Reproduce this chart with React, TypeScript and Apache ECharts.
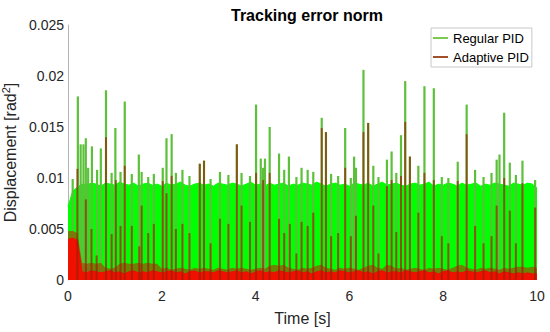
import React, { useEffect, useRef } from 'react';
import * as echarts from 'echarts';

// Sample spacing of the envelope arrays (seconds)
const TIME_STEP = 0.1;

// Regular PID: upper envelope of the dense oscillation (t = 0 .. 10 s, every 0.1 s)
const regularBand = [
  0.0072, 0.0087, 0.0091, 0.0094, 0.0093, 0.0095, 0.0094, 0.0092, 0.0095, 0.0094,
  0.0093, 0.0096, 0.0094, 0.0093, 0.0095, 0.0092, 0.0094, 0.0095, 0.0093, 0.0094,
  0.0092, 0.0095, 0.0093, 0.0094, 0.0096, 0.0093, 0.0092, 0.0094, 0.0095, 0.0093,
  0.0094, 0.0092, 0.0095, 0.0094, 0.0093, 0.0095, 0.0094, 0.0092, 0.0094, 0.0096,
  0.0093, 0.0094, 0.0092, 0.0095, 0.0093, 0.0094, 0.0095, 0.0092, 0.0094, 0.0093,
  0.0095, 0.0094, 0.0093, 0.0096, 0.0094, 0.0092, 0.0094, 0.0095, 0.0093, 0.0094,
  0.0092, 0.0095, 0.0094, 0.0093, 0.0095, 0.0092, 0.0094, 0.0096, 0.0093, 0.0094,
  0.0095, 0.0093, 0.0092, 0.0094, 0.0095, 0.0093, 0.0094, 0.0096, 0.0092, 0.0094,
  0.0093, 0.0095, 0.0094, 0.0092, 0.0095, 0.0093, 0.0094, 0.0095, 0.0092, 0.0094,
  0.0093, 0.0095, 0.0094, 0.0093, 0.0092, 0.0095, 0.0094, 0.0093, 0.0095, 0.0094,
  0.0090,
];

// Adaptive PID: outer (sparser) envelope
const adaptiveBandOuter = [
  0.0048, 0.0048, 0.0046, 0.0017, 0.0016, 0.0017, 0.0016, 0.0017, 0.0012, 0.0011,
  0.0012, 0.0016, 0.0017, 0.0016, 0.0016, 0.0017, 0.0016, 0.0017, 0.0016, 0.0016,
  0.0011, 0.0012, 0.0010, 0.0011, 0.0012, 0.0011, 0.0010, 0.0012, 0.0011, 0.0012,
  0.0011, 0.0010, 0.0012, 0.0011, 0.0010, 0.0012, 0.0011, 0.0012, 0.0011, 0.0010,
  0.0011, 0.0012, 0.0011, 0.0014, 0.0015, 0.0014, 0.0015, 0.0012, 0.0011, 0.0010,
  0.0012, 0.0011, 0.0012, 0.0014, 0.0015, 0.0012, 0.0011, 0.0010, 0.0012, 0.0011,
  0.0012, 0.0011, 0.0010, 0.0012, 0.0014, 0.0015, 0.0012, 0.0011, 0.0015, 0.0014,
  0.0011, 0.0012, 0.0010, 0.0011, 0.0012, 0.0011, 0.0010, 0.0012, 0.0011, 0.0012,
  0.0011, 0.0010, 0.0012, 0.0014, 0.0015, 0.0012, 0.0011, 0.0010, 0.0012, 0.0011,
  0.0012, 0.0011, 0.0010, 0.0012, 0.0011, 0.0012, 0.0013, 0.0013, 0.0012, 0.0013,
  0.0012,
];

// Adaptive PID: dense core of the oscillation
const adaptiveBandCore = [
  0.0040, 0.0041, 0.0039, 0.0008, 0.0007, 0.0009, 0.0008, 0.0007, 0.0008, 0.0009,
  0.0007, 0.0008, 0.0006, 0.0008, 0.0009, 0.0007, 0.0008, 0.0007, 0.0009, 0.0008,
  0.0007, 0.0008, 0.0009, 0.0007, 0.0008, 0.0006, 0.0008, 0.0009, 0.0007, 0.0008,
  0.0008, 0.0007, 0.0009, 0.0008, 0.0007, 0.0008, 0.0009, 0.0007, 0.0008, 0.0006,
  0.0008, 0.0009, 0.0007, 0.0008, 0.0007, 0.0009, 0.0008, 0.0007, 0.0008, 0.0009,
  0.0007, 0.0008, 0.0006, 0.0008, 0.0009, 0.0007, 0.0008, 0.0007, 0.0009, 0.0008,
  0.0007, 0.0008, 0.0009, 0.0007, 0.0008, 0.0006, 0.0008, 0.0009, 0.0007, 0.0008,
  0.0008, 0.0007, 0.0009, 0.0008, 0.0007, 0.0008, 0.0009, 0.0007, 0.0008, 0.0006,
  0.0008, 0.0009, 0.0007, 0.0008, 0.0007, 0.0009, 0.0008, 0.0007, 0.0008, 0.0009,
  0.0007, 0.0008, 0.0006, 0.0008, 0.0007, 0.0006, 0.0007, 0.0006, 0.0007, 0.0006,
  0.0006,
];

// Peaks [time s, value] of Regular PID
const regularSpikes = [
  [0.1, 0.0099], [0.21, 0.018], [0.27, 0.0133], [0.33, 0.0133], [0.38, 0.0139], [0.43, 0.011],
  [0.51, 0.0131], [0.62, 0.0108], [0.7, 0.0129], [0.81, 0.0186], [0.93, 0.0105], [1.01, 0.0149],
  [1.12, 0.0106], [1.21, 0.0175], [1.36, 0.0104], [1.51, 0.0123], [1.57, 0.0106], [1.71, 0.0101],
  [1.83, 0.0104], [2.02, 0.011], [2.1, 0.0139], [2.21, 0.0143], [2.3, 0.0105], [2.44, 0.0108],
  [2.59, 0.0102], [2.81, 0.0114], [2.9, 0.0117], [3.04, 0.0099], [3.24, 0.0106], [3.42, 0.0103],
  [3.6, 0.0133], [3.7, 0.0105], [3.88, 0.0102], [4.01, 0.0172], [4.11, 0.0119], [4.16, 0.011],
  [4.2, 0.0119], [4.3, 0.015], [4.5, 0.0124], [4.61, 0.0108], [4.71, 0.0121], [4.87, 0.0101],
  [4.98, 0.011], [5.11, 0.0108], [5.23, 0.0106], [5.41, 0.0159], [5.5, 0.0145], [5.61, 0.0104],
  [5.76, 0.0102], [5.91, 0.0149], [6.03, 0.01], [6.1, 0.0121], [6.14, 0.011], [6.3, 0.0206],
  [6.4, 0.0154], [6.51, 0.0112], [6.62, 0.0101], [6.8, 0.0118], [6.9, 0.0126], [7.0, 0.0105],
  [7.1, 0.0142], [7.19, 0.0195], [7.29, 0.0121], [7.47, 0.0112], [7.6, 0.019], [7.8, 0.0188],
  [7.97, 0.0101], [8.11, 0.01], [8.31, 0.0116], [8.5, 0.0172], [8.68, 0.0108], [8.86, 0.0101],
  [9.03, 0.0105], [9.14, 0.0118], [9.2, 0.0123], [9.3, 0.0164], [9.42, 0.0115], [9.55, 0.0103],
  [9.69, 0.0117], [9.96, 0.0098],
];

// Peaks [time s, value] of Adaptive PID
const adaptiveSpikes = [
  [0.2, 0.0109], [0.38, 0.0079], [0.5, 0.005], [0.61, 0.0024], [0.81, 0.014], [0.93, 0.0045],
  [1.02, 0.0098], [1.12, 0.0053], [1.21, 0.0112], [1.36, 0.0053], [1.52, 0.0033], [1.57, 0.0073],
  [1.71, 0.0046], [1.83, 0.0055], [2.02, 0.0097], [2.1, 0.0085], [2.21, 0.0102], [2.3, 0.005],
  [2.44, 0.0055], [2.59, 0.0046], [2.81, 0.0114], [2.9, 0.0117], [3.04, 0.0036], [3.24, 0.006],
  [3.42, 0.0055], [3.6, 0.0133], [3.7, 0.0073], [3.88, 0.0057], [4.01, 0.0105], [4.16, 0.0098],
  [4.3, 0.0105], [4.5, 0.006], [4.61, 0.0046], [4.73, 0.0055], [4.87, 0.0026], [4.98, 0.0057],
  [5.11, 0.0053], [5.23, 0.0066], [5.41, 0.0149], [5.5, 0.0145], [5.61, 0.0043], [5.76, 0.0046],
  [5.91, 0.011], [6.03, 0.0043], [6.14, 0.0063], [6.3, 0.0145], [6.4, 0.0154], [6.51, 0.0073],
  [6.62, 0.0026], [6.8, 0.0092], [6.9, 0.0098], [7.0, 0.0047], [7.1, 0.0102], [7.19, 0.0155],
  [7.29, 0.0121], [7.47, 0.0066], [7.6, 0.0105], [7.8, 0.0098], [7.97, 0.0043], [8.11, 0.0036],
  [8.31, 0.0097], [8.5, 0.0143], [8.68, 0.0053], [8.86, 0.0036], [9.03, 0.0043], [9.14, 0.0073],
  [9.3, 0.01], [9.42, 0.0068], [9.55, 0.0036], [9.69, 0.0095], [9.96, 0.0071],
];

const FONT = '"Liberation Sans", Arial, Helvetica, sans-serif';

export default function App() {
  const ref = useRef<HTMLDivElement>(null);

  useEffect(() => {
    if (!ref.current) return;
    const chart = echarts.init(ref.current, null, { renderer: 'svg' });

    const toXY = (arr: number[]) => arr.map((v, i) => [Math.round(i * TIME_STEP * 100) / 100, v]);

    const spikeRender = (color: string, width: number) => (_params: any, api: any) => {
      const t = api.value(0);
      const h = api.value(1);
      const p0 = api.coord([t, 0]);
      const p1 = api.coord([t, h]);
      return {
        type: 'line',
        shape: { x1: p0[0], y1: p0[1], x2: p1[0], y2: p1[1] },
        style: { stroke: color, lineWidth: width },
      };
    };

    chart.setOption({
      animation: false,
      textStyle: { fontFamily: FONT },
      title: {
        text: 'Tracking error norm',
        left: 302,
        textAlign: 'center',
        top: 2,
        textStyle: { fontFamily: FONT, fontSize: 16, fontWeight: 'bold', color: '#000' },
      },
      legend: {
        orient: 'vertical',
        left: 431,
        top: 28,
        padding: [2, 3, 2, 2],
        itemGap: 3,
        itemWidth: 15,
        itemHeight: 2,
        backgroundColor: '#fff',
        borderColor: '#c8c8c8',
        borderWidth: 1,
        textStyle: { fontFamily: FONT, fontSize: 13, color: '#000', lineHeight: 16 },
        data: [
          { name: 'Regular PID', icon: 'rect', itemStyle: { color: '#7acb4f' } },
          { name: 'Adaptive PID', icon: 'rect', itemStyle: { color: '#a0502a' } },
        ],
      },
      grid: { left: 68, right: 13, top: 25, bottom: 52, outerBoundsMode: 'none', containLabel: false },
      xAxis: {
        type: 'value',
        min: 0,
        max: 10,
        interval: 2,
        name: 'Time [s]',
        nameLocation: 'middle',
        nameGap: 30,
        nameTextStyle: { fontFamily: FONT, fontSize: 16, color: '#262626' },
        axisLine: { show: false },
        axisTick: { show: false },
        splitLine: { show: false },
        axisLabel: { fontFamily: FONT, fontSize: 14, color: '#262626', margin: 9 },
      },
      yAxis: {
        type: 'value',
        min: 0,
        max: 0.025,
        interval: 0.005,
        name: 'Displacement [rad{sup|2}]',
        nameLocation: 'middle',
        nameGap: 44,
        nameTextStyle: {
          fontFamily: FONT,
          fontSize: 16,
          color: '#262626',
          rich: {
            sup: { fontFamily: FONT, fontSize: 11, color: '#262626', verticalAlign: 'top', padding: [0, 0, 8, 0] },
          },
        },
        axisLine: { show: true, lineStyle: { color: '#b4b4b4', width: 1 } },
        axisTick: { show: false },
        splitLine: { show: false },
        axisLabel: { fontFamily: FONT, fontSize: 14, color: '#262626', margin: 4 },
      },
      series: [
        {
          name: 'Regular PID',
          type: 'line',
          data: toXY(regularBand),
          symbol: 'none',
          lineStyle: { color: '#00ff00', width: 1 },
          itemStyle: { color: '#00ff00' },
          areaStyle: { color: '#00ff00', opacity: 1 },
          z: 1,
        },
        {
          name: 'Regular PID',
          type: 'custom',
          data: regularSpikes,
          encode: { x: 0, y: 1 },
          renderItem: spikeRender('#5cc03a', 2.2),
          z: 2,
        },
        {
          name: 'Adaptive PID',
          type: 'line',
          data: toXY(adaptiveBandOuter),
          symbol: 'none',
          lineStyle: { width: 0 },
          itemStyle: { color: '#a0502a' },
          areaStyle: { color: 'rgba(175,50,0,0.6)', opacity: 1 },
          z: 3,
        },
        {
          name: 'Adaptive PID',
          type: 'line',
          data: toXY(adaptiveBandCore),
          symbol: 'none',
          lineStyle: { color: '#e81000', width: 1 },
          itemStyle: { color: '#a0502a' },
          areaStyle: { color: '#f01000', opacity: 1 },
          z: 4,
        },
        {
          name: 'Adaptive PID',
          type: 'custom',
          data: adaptiveSpikes,
          encode: { x: 0, y: 1 },
          renderItem: spikeRender('rgba(150,30,0,0.65)', 2),
          z: 5,
        },
      ],
    });

    return () => chart.dispose();
  }, []);

  return (
    <div
      ref={ref}
      style={{ position: 'absolute', left: 0, top: 0, width: 550, height: 332, background: '#fff' }}
    />
  );
}
